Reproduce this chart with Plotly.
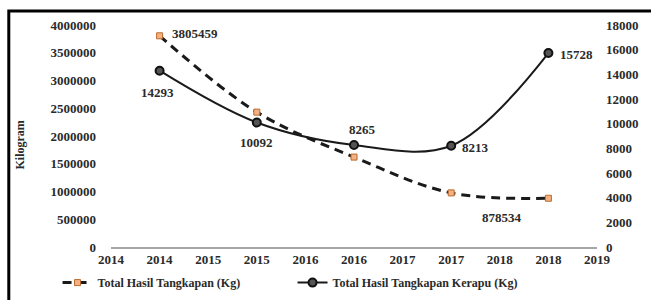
import plotly.graph_objects as go

years = [2014, 2015, 2016, 2017, 2018]
total_catch = [3805459, 2430000, 1620000, 975000, 878534]
grouper_catch = [14293, 10092, 8265, 8213, 15728]

x_tickvals = [2013.5, 2014, 2014.5, 2015, 2015.5, 2016, 2016.5, 2017, 2017.5, 2018, 2018.5]
x_ticktext = ["2014", "2014", "2015", "2015", "2016", "2016", "2017", "2017", "2018", "2018", "2019"]
y1_ticks = [0, 500000, 1000000, 1500000, 2000000, 2500000, 3000000, 3500000, 4000000]
y2_ticks = [0, 2000, 4000, 6000, 8000, 10000, 12000, 14000, 16000, 18000]

name1 = "Total Hasil Tangkapan (Kg)"
name2 = "Total Hasil Tangkapan Kerapu (Kg)"

FONT = "Liberation Serif"
TXT = "#2a2a2a"

fig = go.Figure()
fig.add_trace(go.Scatter(
    x=years, y=total_catch, name="<b>%s</b>" % name1, mode="lines+markers",
    line=dict(color="#1a1a1a", width=3, dash="9px,6px", shape="spline", smoothing=1),
    marker=dict(symbol="square", size=6, color="#f4b183", line=dict(color="#b86a2c", width=1)),
    yaxis="y",
))
fig.add_trace(go.Scatter(
    x=years, y=grouper_catch, name="<b>%s</b>" % name2, mode="lines+markers",
    line=dict(color="#1a1a1a", width=2, shape="spline", smoothing=1),
    marker=dict(symbol="circle", size=8, color="#555555", line=dict(color="#111111", width=2)),
    yaxis="y2",
))

lab_font = dict(family=FONT, size=13, color=TXT)
ann = []
ann.append(dict(x=years[0], y=total_catch[0], xref="x", yref="y", text="<b>%d</b>" % total_catch[0],
                showarrow=False, xanchor="left", xshift=10, yshift=2, font=lab_font))
ann.append(dict(x=years[4], y=total_catch[4], xref="x", yref="y", text="<b>%d</b>" % total_catch[4],
                showarrow=False, xanchor="center", xshift=-46, yshift=-19, font=lab_font))
s2_shift = [(-2, -22, "center"), (0, -20, "center"), (8, 16, "center"), (9, -2, "left"), (10, -1, "left")]
for xv, yv, (xs, ys, xa) in zip(years, grouper_catch, s2_shift):
    ann.append(dict(x=xv, y=yv, xref="x", yref="y2", text="<b>%d</b>" % yv, showarrow=False,
                    xanchor=xa, xshift=xs, yshift=ys, font=lab_font))

ann.append(dict(x=-0.188, y=0.46, xref="paper", yref="paper", text="<b>Kilogram</b>", textangle=-90,
                xanchor="center", yanchor="middle",
                showarrow=False, font=dict(family=FONT, size=12, color=TXT)))

tickfont = dict(family=FONT, size=13, color=TXT)
fig.update_layout(
    width=651, height=300,
    margin=dict(l=111, r=54, t=25, b=53, autoexpand=False),
    paper_bgcolor="white", plot_bgcolor="white",
    font=dict(family=FONT, size=12, color=TXT),
    showlegend=True,
    legend=dict(orientation="h", x=-0.11, xanchor="left", y=-0.095, yanchor="top",
                font=dict(family=FONT, size=12, color=TXT), bgcolor="rgba(0,0,0,0)",
                itemwidth=30, entrywidth=190, entrywidthmode="pixels"),
    xaxis=dict(range=[2013.5, 2018.5], tickvals=x_tickvals, ticktext=["<b>%s</b>" % t for t in x_ticktext],
               showgrid=False, zeroline=False, showline=True, linecolor="#a6a6a6", linewidth=1.5,
               ticks="", ticklabelstandoff=0, tickfont=tickfont),
    yaxis=dict(range=[0, 4000000], tickvals=y1_ticks, ticktext=["<b>%d</b>" % v for v in y1_ticks],
               showgrid=False, zeroline=False, showline=False, ticks="", ticklabelstandoff=14,
               tickfont=tickfont),
    yaxis2=dict(range=[0, 18000], tickvals=y2_ticks, ticktext=["<b>%d</b>" % v for v in y2_ticks],
                overlaying="y", side="right", showgrid=False, zeroline=False, showline=False, ticks="",
                ticklabelstandoff=8, tickfont=tickfont),
    annotations=ann,
    shapes=[dict(type="rect", xref="paper", yref="paper", x0=-0.2103, x1=1.2, y0=-0.35, y1=1.063,
                 line=dict(color="black", width=3), fillcolor="rgba(0,0,0,0)", layer="above")],
)

fig.write_html("out.html", config={"displayModeBar": False},
               post_script="document.body.style.margin='0px';")
